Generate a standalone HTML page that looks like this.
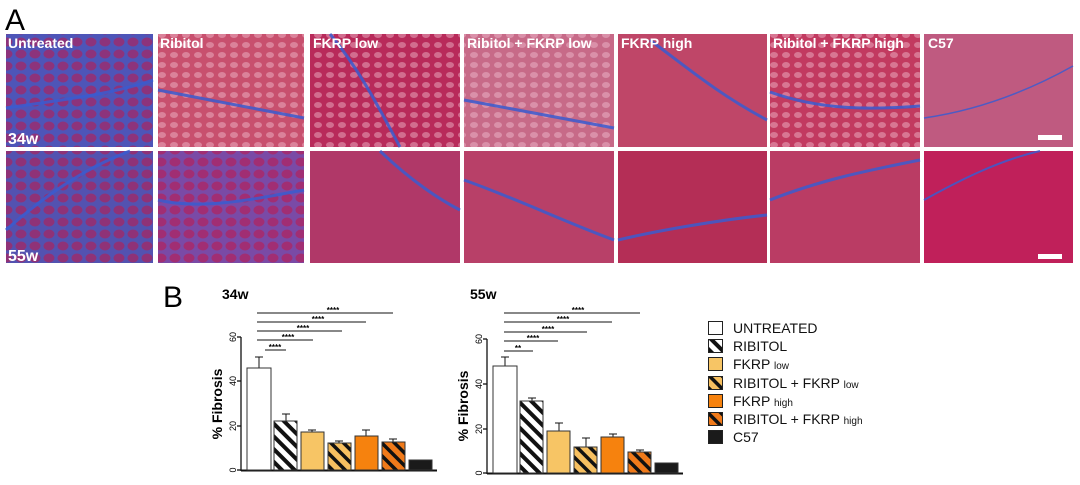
<!DOCTYPE html><html><head><style>body{margin:0;background:#fff}svg{display:block}</style></head><body>
<svg width="1080" height="485" viewBox="0 0 1080 485" xmlns="http://www.w3.org/2000/svg" font-family="Liberation Sans, Arial, sans-serif">
<defs>
<pattern id="hw" width="9" height="9" patternUnits="userSpaceOnUse" patternTransform="rotate(-45)"><rect width="9" height="9" fill="#fff"/><rect width="4" height="9" fill="#111"/></pattern>
<pattern id="hy" width="9" height="9" patternUnits="userSpaceOnUse" patternTransform="rotate(-45)"><rect width="9" height="9" fill="#f7c060"/><rect width="3.5" height="9" fill="#111"/></pattern>
<pattern id="ho" width="9" height="9" patternUnits="userSpaceOnUse" patternTransform="rotate(-45)"><rect width="9" height="9" fill="#f07a1a"/><rect width="3.5" height="9" fill="#111"/></pattern>
<pattern id="cells" width="14" height="12" patternUnits="userSpaceOnUse"><ellipse cx="7" cy="6" rx="5.5" ry="4.5" fill="#c01848" opacity="0.55"/></pattern>
<pattern id="cellsw" width="12" height="10" patternUnits="userSpaceOnUse"><ellipse cx="6" cy="5" rx="4" ry="3" fill="#f2c0d0" opacity="0.45"/></pattern>
</defs>
<text x="5" y="30" font-size="30">A</text>
<g stroke="none">
<rect x="6" y="34" width="147" height="113" fill="#4e55b8"/><rect x="6" y="34" width="147" height="113" fill="url(#cells)"/>
<rect x="158" y="34" width="146" height="113" fill="#c8506e"/><rect x="158" y="34" width="146" height="113" fill="url(#cellsw)"/>
<rect x="310" y="34" width="150" height="113" fill="#b82a5a"/><rect x="310" y="34" width="150" height="113" fill="url(#cellsw)"/>
<rect x="464" y="34" width="150" height="113" fill="#c76a88"/><rect x="464" y="34" width="150" height="113" fill="url(#cellsw)"/>
<rect x="618" y="34" width="149" height="113" fill="#bf4668"/>
<rect x="770" y="34" width="150" height="113" fill="#c23a60"/><rect x="770" y="34" width="150" height="113" fill="url(#cellsw)"/>
<rect x="924" y="34" width="149" height="113" fill="#bf5a80"/>
<rect x="6" y="151" width="147" height="112" fill="#5352b0"/><rect x="6" y="151" width="147" height="112" fill="url(#cells)"/>
<rect x="158" y="151" width="146" height="112" fill="#7a4aa6"/><rect x="158" y="151" width="146" height="112" fill="url(#cells)"/>
<rect x="310" y="151" width="150" height="112" fill="#b03868"/>
<rect x="464" y="151" width="150" height="112" fill="#b84068"/>
<rect x="618" y="151" width="149" height="112" fill="#b42e56"/>
<rect x="770" y="151" width="150" height="112" fill="#ba3c64"/>
<rect x="924" y="151" width="149" height="112" fill="#c0205a"/>
</g>
<g stroke="#3a5cd0" stroke-width="3" fill="none" opacity="0.85">
<path d="M6 108 C60 100 110 95 153 80"/><path d="M158 90 C210 100 260 110 304 118"/><path d="M330 34 C360 70 380 110 400 147"/>
<path d="M464 100 C520 110 570 120 614 128"/><path d="M650 40 C690 70 720 95 767 120"/><path d="M770 92 C820 110 870 110 920 106"/>
<path d="M924 118 C980 110 1030 90 1073 66" stroke-width="1.5"/>
<path d="M6 230 C40 200 80 170 130 151"/><path d="M158 200 C200 210 250 200 304 190"/><path d="M380 151 C410 180 440 200 460 210"/>
<path d="M464 180 C520 200 560 220 614 240"/><path d="M618 240 C660 230 720 220 767 215"/><path d="M770 200 C820 180 870 170 920 160"/>
<path d="M924 200 C960 180 1000 160 1040 151" stroke-width="2"/>
</g>
<g fill="#fff" font-weight="bold" font-size="14">
<text x="8" y="48">Untreated</text><text x="160" y="48">Ribitol</text><text x="313" y="48">FKRP low</text><text x="467" y="48">Ribitol + FKRP low</text><text x="621" y="48">FKRP high</text><text x="773" y="48">Ribitol + FKRP high</text><text x="928" y="48">C57</text>
<text x="8" y="144" font-size="16">34w</text><text x="8" y="261" font-size="16">55w</text>
</g>
<rect x="1038" y="135" width="24" height="5" fill="#fff"/><rect x="1038" y="254" width="24" height="5" fill="#fff"/>
<text x="163" y="307" font-size="30">B</text>
<text x="222" y="299" font-size="14" font-weight="bold">34w</text>
<text x="470" y="299" font-size="14" font-weight="bold">55w</text>
<g stroke="#111" stroke-width="1.3">
<line x1="241" y1="337" x2="241" y2="471"/><line x1="241" y1="470.5" x2="437" y2="470.5" stroke-width="2"/>
<line x1="237" y1="337" x2="241" y2="337"/><line x1="237" y1="381" x2="241" y2="381"/><line x1="237" y1="426" x2="241" y2="426"/><line x1="237" y1="470" x2="241" y2="470"/>
</g>
<g font-size="9" text-anchor="middle"><text transform="translate(236,337) rotate(-90)">60</text><text transform="translate(236,381) rotate(-90)">40</text><text transform="translate(236,426) rotate(-90)">20</text><text transform="translate(236,470) rotate(-90)">0</text></g>
<text transform="translate(222,404) rotate(-90)" font-size="14" font-weight="bold" text-anchor="middle">% Fibrosis</text>
<g stroke="#111" stroke-width="1">
<line x1="259" y1="357" x2="259" y2="368"/><line x1="255" y1="357" x2="263" y2="357"/>
<line x1="286" y1="414" x2="286" y2="421"/><line x1="282" y1="414" x2="290" y2="414"/>
<line x1="312" y1="430" x2="312" y2="432"/><line x1="308" y1="430" x2="316" y2="430"/>
<line x1="339" y1="441" x2="339" y2="443"/><line x1="335" y1="441" x2="343" y2="441"/>
<line x1="366" y1="430" x2="366" y2="436"/><line x1="362" y1="430" x2="370" y2="430"/>
<line x1="393" y1="439" x2="393" y2="442"/><line x1="389" y1="439" x2="397" y2="439"/>
</g>
<g stroke="#333" stroke-width="1">
<rect x="247" y="368" width="24" height="102" fill="#fff"/>
<rect x="274" y="421" width="23" height="49" fill="url(#hw)"/>
<rect x="301" y="432" width="23" height="38" fill="#f7c565"/>
<rect x="328" y="443" width="23" height="27" fill="url(#hy)"/>
<rect x="355" y="436" width="23" height="34" fill="#f6820e"/>
<rect x="382" y="442" width="23" height="28" fill="url(#ho)"/>
<rect x="409" y="460" width="23" height="10" fill="#1a1a1a"/>
</g>
<g stroke="#111" stroke-width="1"><line x1="257" y1="313" x2="393" y2="313"/><line x1="257" y1="322" x2="366" y2="322"/><line x1="257" y1="331" x2="342" y2="331"/><line x1="257" y1="340" x2="313" y2="340"/><line x1="265" y1="350" x2="286" y2="350"/></g>
<g font-size="8" font-weight="bold" text-anchor="middle"><text x="333" y="313">****</text><text x="318" y="322">****</text><text x="303" y="331">****</text><text x="288" y="340">****</text><text x="275" y="350">****</text></g>
<g stroke="#111" stroke-width="1.3">
<line x1="487" y1="339" x2="487" y2="474"/><line x1="487" y1="473.5" x2="683" y2="473.5" stroke-width="2"/>
<line x1="483" y1="339" x2="487" y2="339"/><line x1="483" y1="384" x2="487" y2="384"/><line x1="483" y1="429" x2="487" y2="429"/><line x1="483" y1="473" x2="487" y2="473"/>
</g>
<g font-size="9" text-anchor="middle"><text transform="translate(482,339) rotate(-90)">60</text><text transform="translate(482,384) rotate(-90)">40</text><text transform="translate(482,429) rotate(-90)">20</text><text transform="translate(482,473) rotate(-90)">0</text></g>
<text transform="translate(468,406) rotate(-90)" font-size="14" font-weight="bold" text-anchor="middle">% Fibrosis</text>
<g stroke="#111" stroke-width="1">
<line x1="505" y1="357" x2="505" y2="366"/><line x1="501" y1="357" x2="509" y2="357"/>
<line x1="532" y1="398" x2="532" y2="401"/><line x1="528" y1="398" x2="536" y2="398"/>
<line x1="559" y1="423" x2="559" y2="431"/><line x1="555" y1="423" x2="563" y2="423"/>
<line x1="586" y1="438" x2="586" y2="447"/><line x1="582" y1="438" x2="590" y2="438"/>
<line x1="613" y1="434" x2="613" y2="437"/><line x1="609" y1="434" x2="617" y2="434"/>
<line x1="640" y1="450" x2="640" y2="452"/><line x1="636" y1="450" x2="644" y2="450"/>
</g>
<g stroke="#333" stroke-width="1">
<rect x="493" y="366" width="24" height="107" fill="#fff"/>
<rect x="520" y="401" width="23" height="72" fill="url(#hw)"/>
<rect x="547" y="431" width="23" height="42" fill="#f7c565"/>
<rect x="574" y="447" width="23" height="26" fill="url(#hy)"/>
<rect x="601" y="437" width="23" height="36" fill="#f6820e"/>
<rect x="628" y="452" width="23" height="21" fill="url(#ho)"/>
<rect x="655" y="463" width="23" height="10" fill="#1a1a1a"/>
</g>
<g stroke="#111" stroke-width="1"><line x1="504" y1="313" x2="640" y2="313"/><line x1="504" y1="322" x2="612" y2="322"/><line x1="504" y1="332" x2="587" y2="332"/><line x1="504" y1="341" x2="558" y2="341"/><line x1="504" y1="351" x2="533" y2="351"/></g>
<g font-size="8" font-weight="bold" text-anchor="middle"><text x="578" y="313">****</text><text x="563" y="322">****</text><text x="548" y="332">****</text><text x="533" y="341">****</text><text x="518" y="351">**</text></g>
<g stroke="#222" stroke-width="1">
<rect x="708.5" y="321.5" width="14" height="13" fill="#fff"/>
<rect x="708.5" y="339.5" width="14" height="13" fill="url(#hw)"/>
<rect x="708.5" y="357.5" width="14" height="13" fill="#f7c565"/>
<rect x="708.5" y="376.5" width="14" height="13" fill="url(#hy)"/>
<rect x="708.5" y="394.5" width="14" height="13" fill="#f6820e"/>
<rect x="708.5" y="412.5" width="14" height="13" fill="url(#ho)"/>
<rect x="708.5" y="430.5" width="14" height="13" fill="#1a1a1a"/>
</g>
<g font-size="14" fill="#111">
<text x="733" y="333">UNTREATED</text>
<text x="733" y="351">RIBITOL</text>
<text x="733" y="369">FKRP <tspan font-size="10">low</tspan></text>
<text x="733" y="388">RIBITOL + FKRP <tspan font-size="10">low</tspan></text>
<text x="733" y="406">FKRP <tspan font-size="10">high</tspan></text>
<text x="733" y="424">RIBITOL + FKRP <tspan font-size="10">high</tspan></text>
<text x="733" y="442">C57</text>
</g>
</svg>
</body></html>
